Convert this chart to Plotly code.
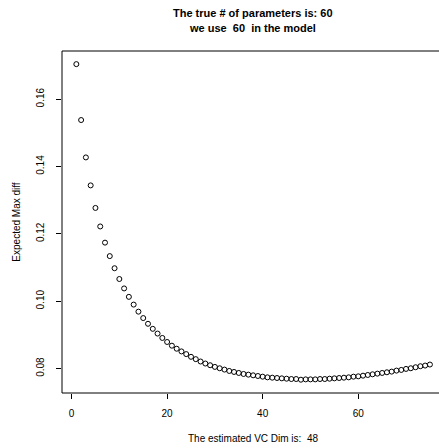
import plotly.graph_objects as go

vc_dim = list(range(1, 76))
expected_max_diff = [
    0.1704, 0.1538, 0.1427, 0.1344, 0.1277, 0.1222, 0.1174, 0.1134, 0.1098, 0.1066,
    0.1038, 0.1013, 0.0990, 0.0969, 0.0950, 0.0933, 0.0918, 0.0904, 0.0891, 0.0879,
    0.0868, 0.0859, 0.0851, 0.0843, 0.0835, 0.0828, 0.0821, 0.0815, 0.0810, 0.0805,
    0.0801, 0.0797, 0.0793, 0.0790, 0.0787, 0.0784, 0.0782, 0.0780, 0.0778, 0.0776,
    0.0774, 0.0773, 0.0772, 0.0771, 0.0770, 0.0769, 0.0769, 0.0767, 0.0768, 0.0768,
    0.0768, 0.0769, 0.0769, 0.0770, 0.0771, 0.0772, 0.0773, 0.0774, 0.0776, 0.0777,
    0.0779, 0.0781, 0.0783, 0.0785, 0.0787, 0.0789, 0.0791, 0.0794, 0.0796, 0.0799,
    0.0801, 0.0804, 0.0807, 0.0809, 0.0812,
]
x_ticks = [0, 20, 40, 60]
y_ticks = [0.08, 0.10, 0.12, 0.14, 0.16]
y_tick_labels = ["0.08", "0.10", "0.12", "0.14", "0.16"]
title_lines = ["The true # of parameters is: 60", "we use  60  in the model"]
x_label = "The estimated VC Dim is:  48"
y_label = "Expected Max diff"

FONT = "Liberation Sans, Arial, Helvetica, sans-serif"

L, R, T, B = 62, 0, 51, 55
W, H = 439, 448
PW, PH = W - L - R, H - T - B
cx = (253 - L) / PW

fig = go.Figure()
fig.add_trace(go.Scatter(
    x=vc_dim, y=expected_max_diff, mode="markers",
    marker=dict(symbol="circle-open", size=5, color="black", line=dict(width=1, color="black")),
    showlegend=False, hoverinfo="skip",
))

fig.update_layout(
    width=W, height=H, autosize=False,
    margin=dict(l=L, r=R, t=T, b=B, pad=0, autoexpand=False),
    paper_bgcolor="white", plot_bgcolor="white",
    font=dict(family=FONT, size=10, color="black"),
    xaxis=dict(
        range=[-2.0, 76.9], tickmode="array", tickvals=x_ticks,
        ticktext=[str(v) for v in x_ticks],
        ticks="outside", ticklen=5, tickwidth=1, tickcolor="black",
        showgrid=False, zeroline=False, showline=False, automargin=False,
        ticklabelstandoff=6,
    ),
    yaxis=dict(
        range=[0.07275, 0.1743], tickmode="array", tickvals=y_ticks,
        ticktext=y_tick_labels, tickangle=-90,
        ticks="outside", ticklen=5, tickwidth=1, tickcolor="black",
        showgrid=False, zeroline=False, showline=False, automargin=False,
        ticklabelstandoff=8,
        title=dict(text=y_label, standoff=12, font=dict(size=10)),
    ),
    shapes=[dict(type="rect", xref="paper", yref="paper", x0=0, x1=1.1, y0=0, y1=1,
                 line=dict(color="black", width=1), fillcolor="rgba(0,0,0,0)")],
    annotations=[
        dict(text="<b>" + title_lines[0] + "</b>", xref="paper", yref="paper",
             x=cx, y=1 + (T - 13) / PH, showarrow=False,
             font=dict(size=11), xanchor="center", yanchor="middle"),
        dict(text="<b>" + title_lines[1] + "</b>", xref="paper", yref="paper",
             x=cx, y=1 + (T - 28) / PH, showarrow=False,
             font=dict(size=11), xanchor="center", yanchor="middle"),
        dict(text=x_label, xref="paper", yref="paper",
             x=cx, y=-(438 - (H - B)) / PH, showarrow=False,
             font=dict(size=10), xanchor="center", yanchor="middle"),
    ],
)

fig.write_html(
    "out.html",
    config={"staticPlot": True},
    post_script="document.body.style.margin='0';document.body.style.overflow='hidden';",
)
